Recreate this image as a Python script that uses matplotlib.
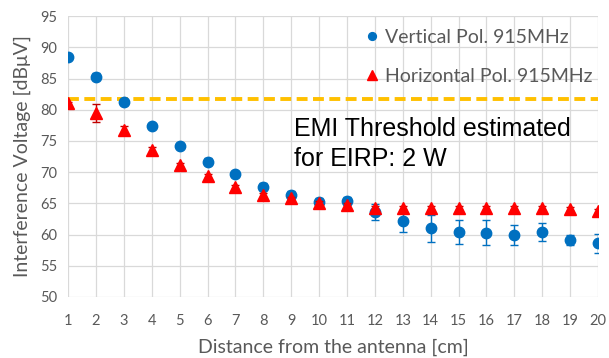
import matplotlib.pyplot as plt
import numpy as np

# distance [cm]
dist = np.arange(1, 21)

# Vertical Pol. 915MHz
vert = [88.5, 85.3, 81.3, 77.4, 74.2, 71.7, 69.7, 67.7, 66.4, 65.2,
        65.4, 63.6, 62.2, 61.0, 60.4, 60.3, 60.0, 60.4, 59.2, 58.6]
vert_err = [0.3, 0.6, 0.5, 0.3, 0.4, 0.6, 0.5, 0.6, 0.6, 0.6,
            0.6, 1.3, 1.75, 2.2, 1.9, 2.0, 1.6, 1.5, 0.8, 1.5]

# Horizontal Pol. 915MHz
horiz = [81.0, 79.5, 76.8, 73.5, 71.1, 69.4, 67.6, 66.4, 65.8, 65.0,
         64.7, 64.2, 64.3, 64.3, 64.3, 64.3, 64.3, 64.3, 64.1, 63.8]
horiz_err = [0.3, 1.4, 0.6, 0.5, 0.3, 0.3, 0.3, 0.3, 0.3, 0.3,
             0.3, 0.3, 0.3, 0.3, 0.3, 0.3, 0.3, 0.3, 0.3, 0.3]

threshold = 81.7

gray = "#595959"
plt.rcParams['font.family'] = ['Lato', 'DejaVu Sans']

fig = plt.figure(figsize=(6.09, 3.58), dpi=100)
ax = fig.add_axes([0.1117, 0.1704, 0.8703, 0.7846])

ax.axhline(threshold, color="#ffc000", lw=2.8, ls=(0, (2.8, 1.4)), zorder=2)

ax.errorbar(dist, vert, yerr=vert_err, fmt="o", color="#0070c0", ms=7.5,
            ecolor="#0070c0", elinewidth=1, capsize=3, label="Vertical Pol. 915MHz", zorder=3)
ax.errorbar(dist, horiz, yerr=horiz_err, fmt="^", color="#ff0000", ms=9,
            ecolor="#c00000", elinewidth=1, capsize=3, label="Horizontal Pol. 915MHz", zorder=4)

ax.set_xlim(1, 20)
ax.set_ylim(50, 95)
ax.set_xticks(dist)
ax.set_yticks(np.arange(50, 96, 5))
ax.tick_params(axis="y", length=0, labelsize=10.5, colors=gray, pad=8)
ax.tick_params(axis="x", length=0, labelsize=10.5, colors=gray, pad=12)
ax.grid(True, color="#d9d9d9", lw=0.9, zorder=0)
ax.set_axisbelow(True)
for s in ax.spines.values():
    s.set_visible(False)

ax.set_xlabel("Distance from the antenna [cm]", fontsize=14, color=gray, labelpad=8)
ax.set_ylabel("Interference Voltage [dBμV]", fontsize=14, color=gray, labelpad=6)

handles, labels = ax.get_legend_handles_labels()
hs = [h[0] for h in handles]
leg = ax.legend(hs, labels, loc="upper left", bbox_to_anchor=(0.562, 0.955), frameon=False,
                fontsize=14, labelspacing=1.15, handlelength=0.6, handletextpad=0.4,
                markerscale=0.75, borderpad=0, borderaxespad=0)
for t in leg.get_texts():
    t.set_color(gray)

ax.text(0.427, 0.64, "EMI Threshold estimated\nfor EIRP: 2 W", transform=ax.transAxes,
        fontsize=18, family="Liberation Sans", color="black", va="top", linespacing=1.33)

fig.savefig("out.png", dpi=100)
